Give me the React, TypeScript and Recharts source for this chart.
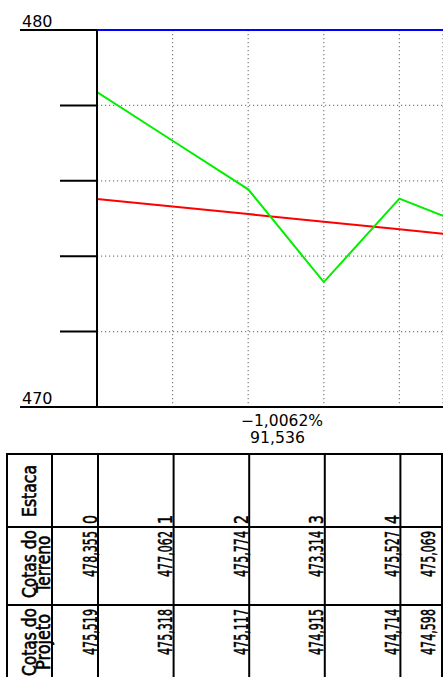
import React from "react";
import { LineChart, Line, XAxis, YAxis, CartesianGrid, ReferenceLine } from "recharts";

// stations every 20 m, last one at the end of the stretch
const distances = [0, 20, 40, 60, 80, 91.536];
const stations = ["0", "1", "2", "3", "4", ""];
const terrain = [478.355, 477.062, 475.774, 473.314, 475.527, 475.069];
const project = [475.519, 475.318, 475.117, 474.915, 474.714, 474.598];
const yTicks = [470, 472, 474, 476, 478, 480];
const gradeLabel = "−1,0062%";
const lengthLabel = "91,536";

const data = distances.map((d, i) => ({ dist: d, terrain: terrain[i], project: project[i] }));

const W = 443;
const H = 677;
const PLOT_LEFT = 97;
const TABLE_TOP = 454;
const ROW2 = 527;
const ROW3 = 605;
const FONT = '"DejaVu Sans", sans-serif';

const fmt = (v: number) => v.toFixed(3).replace(".", ",");

// rotated (bottom-to-top) CAD style text
const Vert = ({ x, y, text, len, anchor, size = 20 }: any) => (
  <text
    transform={`translate(${x},${y}) rotate(-90)`}
    textAnchor={anchor}
    fontSize={size}
    fontFamily={FONT}
    textLength={len}
    lengthAdjust="spacingAndGlyphs"
    fill="#000"
    stroke="#000"
    strokeWidth={0.6}
  >
    {text}
  </text>
);

const LevelTick = ({ y, payload }: any) => {
  const v = payload.value;
  const major = v === 470 || v === 480;
  return (
    <g>
      <line x1={major ? 20 : 60} x2={PLOT_LEFT} y1={y} y2={y} stroke="#000" strokeWidth={2} />
      {major && (
        <text x={22} y={y - 3} fontSize={16} fontFamily={FONT} fill="#000">
          {v}
        </text>
      )}
    </g>
  );
};

const StationTick = ({ x, payload }: any) => {
  const i = distances.indexOf(payload.value);
  if (i < 0) return null;
  const last = i === distances.length - 1;
  const lx = last ? W - 1 : x + 1;
  const tx = last ? x - 8 : x - 0.5;
  return (
    <g>
      <line x1={lx} x2={lx} y1={TABLE_TOP} y2={H} stroke="#000" strokeWidth={2} />
      {stations[i] && <Vert x={tx} y={ROW2 - 3} text={stations[i]} len={9} anchor="start" />}
      <Vert x={tx} y={ROW2 + 4} text={fmt(terrain[i])} len={46} anchor="end" />
      <Vert x={tx} y={ROW3 + 4} text={fmt(project[i])} len={46} anchor="end" />
    </g>
  );
};

export default function App() {
  return (
    <div style={{ position: "absolute", left: 0, top: 0, width: W, height: H, background: "#fff" }}>
      <LineChart width={W} height={H} data={data} margin={{ top: 30, right: 0, bottom: 0, left: 20 }}>
        <CartesianGrid stroke="#808080" strokeWidth={1.2} strokeDasharray="1.2 2.8" />
        <XAxis
          dataKey="dist"
          type="number"
          domain={[0, distances[distances.length - 1]]}
          ticks={distances}
          interval={0}
          height={270}
          axisLine={{ stroke: "#000", strokeWidth: 2 }}
          tickLine={false}
          tick={<StationTick />}
          allowDataOverflow
        />
        <YAxis
          type="number"
          domain={[470, 480]}
          ticks={yTicks}
          interval={0}
          width={77}
          axisLine={{ stroke: "#000", strokeWidth: 2 }}
          tickLine={false}
          tickSize={0}
          tick={<LevelTick />}
        />
        <ReferenceLine y={480} stroke="#0000ff" strokeWidth={2} />
        <Line dataKey="project" type="linear" stroke="#ff0000" strokeWidth={2} dot={false} isAnimationActive={false} />
        <Line dataKey="terrain" type="linear" stroke="#00ee00" strokeWidth={2} dot={false} isAnimationActive={false} />
      </LineChart>
      <svg width={W} height={H} style={{ position: "absolute", left: 0, top: 0, pointerEvents: "none" }}>
        <text x={282} y={426} textAnchor="middle" fontSize={15} fontFamily={FONT} fill="#000" textLength={82} lengthAdjust="spacingAndGlyphs">
          {gradeLabel}
        </text>
        <text x={277.5} y={443} textAnchor="middle" fontSize={15} fontFamily={FONT} fill="#000" textLength={55} lengthAdjust="spacingAndGlyphs">
          {lengthLabel}
        </text>
        {[TABLE_TOP, ROW2, ROW3].map((y) => (
          <line key={y} x1={6} x2={W} y1={y} y2={y} stroke="#000" strokeWidth={2} />
        ))}
        <line x1={7} x2={7} y1={TABLE_TOP} y2={H} stroke="#000" strokeWidth={2} />
        <line x1={52} x2={52} y1={TABLE_TOP} y2={H} stroke="#000" strokeWidth={2} />
        <Vert x={36} y={491} text="Estaca" len={52} anchor="middle" size={19} />
        <Vert x={36} y={564} text="Cotas do" len={68} anchor="middle" size={19} />
        <Vert x={50} y={564} text="Terreno" len={57} anchor="middle" size={19} />
        <Vert x={36} y={642} text="Cotas do" len={68} anchor="middle" size={19} />
        <Vert x={50} y={642} text="Projeto" len={56} anchor="middle" size={19} />
      </svg>
    </div>
  );
}
